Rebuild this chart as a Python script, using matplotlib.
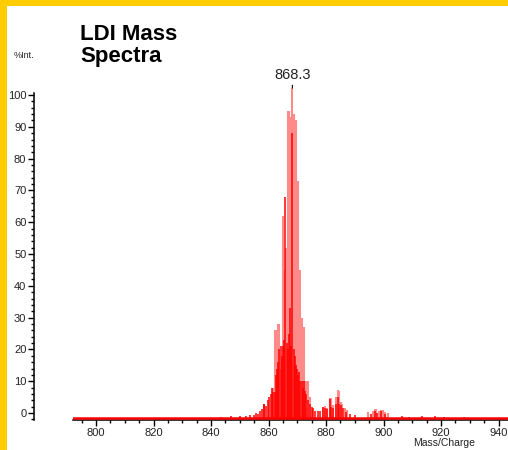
import matplotlib
matplotlib.use("Agg")
import matplotlib.pyplot as plt
from matplotlib.patches import Rectangle
from matplotlib.ticker import MultipleLocator

plt.rcParams['font.family'] = ['Liberation Sans', 'DejaVu Sans']

# profile envelope peaks (light red): m/z and relative intensity (%)
outer_mz = [861.5, 862.1, 862.7, 863.2, 863.8, 864.3, 865.0, 865.5, 866.1, 866.7,
            867.3, 867.8, 868.3, 868.9, 869.4, 869.8, 870.4, 871.1, 871.5, 871.9,
            872.5, 873.1, 873.7, 874.3,
            878.9, 879.5, 880.4, 881.3, 881.8, 882.5, 883.5, 884.1, 884.5, 885.3,
            885.7, 886.5, 887.4,
            894.5, 896.2, 896.9, 897.5, 898.4, 899.2, 899.8, 900.6, 901.6]
outer_int = [9.2, 26.6, 26.6, 28.5, 28.5, 15, 61.3, 44.9, 51.6, 93.1,
             93.1, 91.2, 100, 92.1, 90.2, 62.2, 71.9, 44.9, 30.4, 25.6,
             27.5, 11.1, 11.1, 6.3,
             3.4, 3.6, 3.0, 6.0, 6.0, 3.9, 6.3, 8.5, 8.3, 4.9,
             4.4, 3.0, 2.3,
             1.8, 2.1, 2.6, 2.8, 2.2, 2.5, 2.3, 1.9, 1.4]

# centroid / dense peaks (bright red)
inner_mz = [843.5, 847.0, 850.2, 852.0, 853.5, 855.0, 855.7, 856.5, 857.2, 857.7,
            858.3, 858.6, 859.2, 859.8, 860.3, 860.8, 861.2, 861.7, 862.1, 862.6,
            863.0, 863.4, 863.8, 864.2, 864.6, 865.0, 865.4, 865.9, 866.3, 866.7,
            867.1, 867.4, 867.8, 868.3, 868.7, 869.1, 869.5, 869.9, 870.3, 870.7,
            871.1, 871.5, 871.9, 872.3, 872.7, 873.2, 873.7, 874.3, 875.0, 875.6,
            876.3, 877.2, 878.0, 878.9, 879.5, 880.3, 881.3, 881.9, 882.6, 883.5,
            884.1, 884.6, 885.3, 886.0, 887.0, 888.2, 890.0, 895.5, 896.9, 897.6,
            899.2, 900.4, 906.5, 909.0, 913.5, 918.0, 921.0, 928.0]
inner_int = [0.4, 0.5, 0.5, 0.7, 0.8, 1.0, 1.6, 1.2, 2.0, 2.6,
             4.1, 4.4, 3.6, 5.4, 6.3, 7.3, 9.2, 7.8, 8.0, 13.1,
             15.0, 16.9, 20.8, 21.7, 18.9, 21.7, 23.7, 67.1, 22.7, 20.8,
             25.6, 33.3, 21.7, 86.3, 20.8, 18.9, 16.0, 15.0, 13.1, 14.0,
             11.1, 11.1, 9.2, 11.1, 8.2, 7.3, 5.4, 4.4, 3.4, 2.9,
             2.0, 2.0, 2.2, 3.4, 2.9, 2.6, 5.8, 3.4, 2.9, 4.4,
             6.3, 4.4, 3.9, 2.9, 1.8, 1.2, 0.8, 1.2, 2.2, 1.5,
             2.2, 1.2, 0.5, 0.4, 0.5, 0.6, 0.4, 0.3]

base_peak = 868.3
x_ticks = [800, 820, 840, 860, 880, 900, 920, 940]
y_ticks = [0, 10, 20, 30, 40, 50, 60, 70, 80, 90, 100]


# the printed %Int. scale sits a little above the trace baseline
def to_scale(y):
    return (3.3 * y - 5) / 3.18


def from_scale(t):
    return (3.18 * t + 5) / 3.3


fig = plt.figure(figsize=(5.08, 4.5), dpi=100)
fig.patch.set_facecolor('white')
# yellow frame on the left and top
fig.patches.append(Rectangle((0, 0), 7 / 508, 1, transform=fig.transFigure,
                             facecolor='#ffcc00', edgecolor='none', zorder=0))
fig.patches.append(Rectangle((0, 1 - 6 / 450), 1, 6 / 450, transform=fig.transFigure,
                             facecolor='#ffcc00', edgecolor='none', zorder=0))

ax = fig.add_axes([73 / 508, 30 / 450, 435 / 508, 327 / 450])
ax.set_xlim(792, 943.3)
ax.set_ylim(-0.6, 98.5)

ax.vlines(outer_mz, 0, outer_int, color='#ff8a8a', linewidth=1.5, zorder=2, clip_on=False)
ax.vlines(inner_mz, 0, inner_int, color='#ff0000', linewidth=1.1, zorder=3, clip_on=False)
ax.axhline(0, color='#ff0000', linewidth=1.8, zorder=3)

for s in ['top', 'right', 'left']:
    ax.spines[s].set_visible(False)
ax.spines['bottom'].set_linewidth(1.1)
ax.tick_params(axis='y', left=False, labelleft=False)

ax.set_xticks(x_ticks)
ax.xaxis.set_minor_locator(MultipleLocator(5))
ax.tick_params(axis='x', which='major', direction='out', length=4, width=1, labelsize=8,
               labelcolor='#222222', pad=1.5)
ax.tick_params(axis='x', which='minor', direction='out', length=2.5, width=1)

sec = ax.secondary_yaxis(-39 / 435, functions=(to_scale, from_scale))
sec.spines['left'].set_linewidth(1.1)
sec.set_yticks(y_ticks)
sec.yaxis.set_minor_locator(MultipleLocator(2))
sec.tick_params(which='major', direction='out', length=4, width=1, labelsize=8,
                labelcolor='#222222', pad=1.5)
sec.tick_params(which='minor', direction='out', length=2.5, width=1)

ax.annotate(f'{base_peak:.1f}', xy=(base_peak, 100), xytext=(0, 4),
            textcoords='offset points', ha='center', va='bottom',
            fontsize=10.5, color='#222222', annotation_clip=False,
            arrowprops=dict(arrowstyle='-', color='black', lw=0.8, shrinkA=0, shrinkB=0))

fig.text(80 / 508, 1 - 24 / 450, 'LDI Mass\nSpectra', fontsize=16, fontweight='bold',
         ha='left', va='top', linespacing=1.05)
fig.text(24 / 508, 1 - 56 / 450, '%Int.', fontsize=6.5, ha='center', va='center',
         color='#222222')
fig.text(444 / 508, 1 - 438 / 450, 'Mass/Charge', fontsize=7.5, ha='center', va='top',
         color='#222222')

fig.savefig('out.png', dpi=100)
